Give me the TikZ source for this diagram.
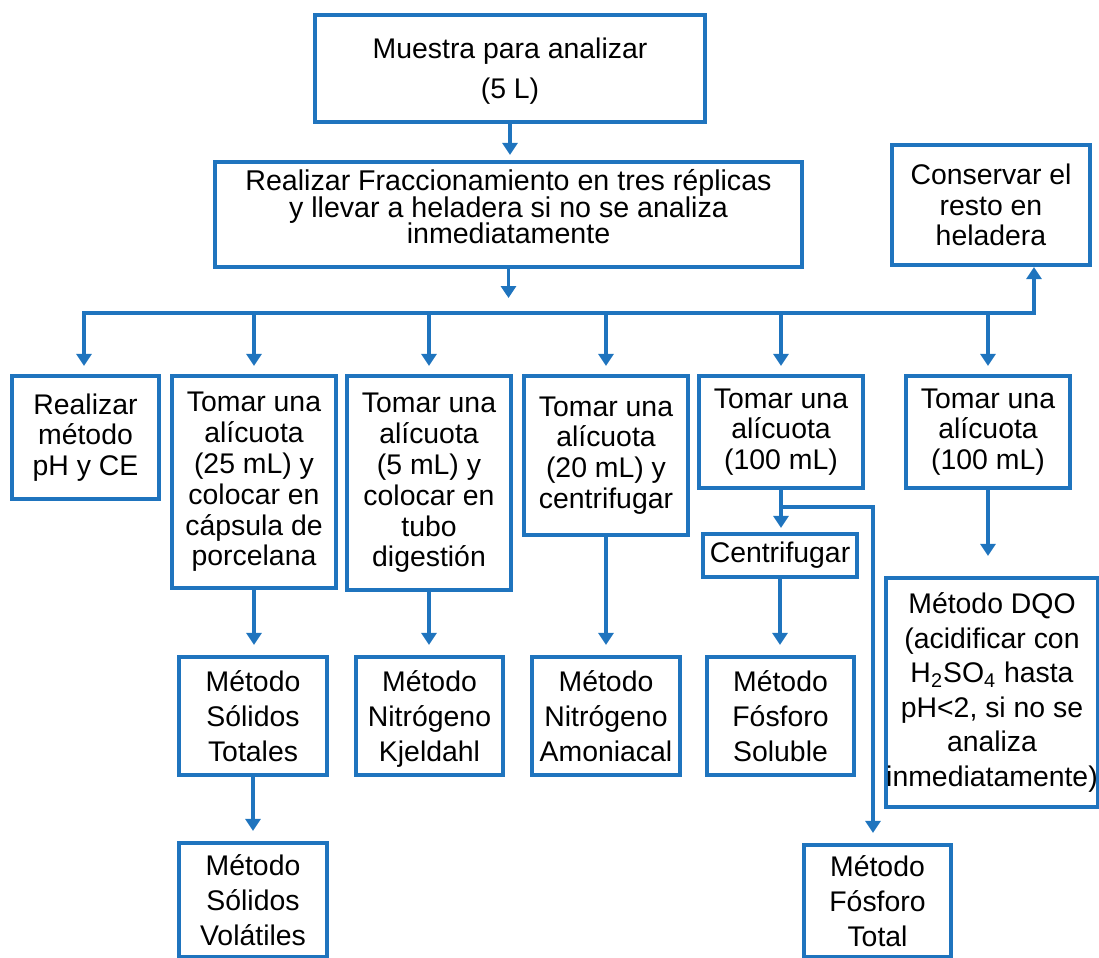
\documentclass[tikz,border=0pt]{standalone}
\usepackage{fontspec}
\setmainfont{Liberation Sans}
\usetikzlibrary{arrows.meta}
\definecolor{fblue}{HTML}{1F74BE}
\newcommand\mytightlines{\lineskiplimit=-10pt\relax\lineskip=0pt\relax}
\begin{document}
\begin{tikzpicture}[x=0.5pt,y=-0.5pt,
  box/.style={draw=fblue,line width=2.1pt,inner sep=0pt,align=center,font=\fontsize{14.2}{15.4}\selectfont},
  txt/.style={inner sep=0pt,align=center},
  ln/.style={draw=fblue,line width=1.65pt},
  arr/.style={ln,-{Triangle[length=6pt,width=7.5pt]}},
  biarr/.style={ln,{Triangle[length=6pt,width=7.5pt]}-{Triangle[length=6pt,width=7.5pt]}},
  metodo/.style={box,text depth=0pt,font=\fontsize{14.2}{17.5}\selectfont}]
\useasboundingbox (0,0) rectangle (1099,958);

% top
\node[box,minimum width=195pt,minimum height=53.5pt,text depth=0pt,font=\fontsize{14.2}{20}\selectfont] (top) at (510,68.5) {Muestra para analizar\\(5 L)};
\node[box,minimum width=293.5pt,minimum height=52.5pt] (frac) at (508.5,214.5) {};
\node[txt,font={\fontsize{14.3}{13.3}\selectfont\mytightlines}] (fractxt) at (508.5,207) {Realizar Fraccionamiento en tres réplicas\\y llevar a heladera si no se analiza\\inmediatamente};
\node[box,minimum width=99pt,minimum height=60pt] (cons) at (991,205) {Conservar el\\resto en\\heladera};

% second row
\node[box,minimum width=73.5pt,minimum height=61.5pt] (ph) at (85.5,437.5) {Realizar\\método\\pH y CE};
\node[box,minimum width=82pt,minimum height=106pt] (t25) at (254,482) {Tomar una\\alícuota\\(25 mL) y\\colocar en\\cápsula de\\porcelana};
\node[box,minimum width=82pt,minimum height=107pt] (t5) at (429,483) {Tomar una\\alícuota\\(5 mL) y\\colocar en\\tubo\\digestión};
\node[box,minimum width=82pt,minimum height=79.5pt] (t20) at (606,455.5) {Tomar una\\alícuota\\(20 mL) y\\centrifugar};
\node[box,minimum width=82pt,minimum height=56pt] (t100a) at (781,432) {Tomar una\\alícuota\\(100 mL)};
\node[box,minimum width=82pt,minimum height=56pt] (t100b) at (988,432) {Tomar una\\alícuota\\(100 mL)};
\node[box,minimum width=77pt,minimum height=21.5pt] (centri) at (780,555.5) {Centrifugar};

% third row
\node[metodo,minimum width=74pt,minimum height=59pt] (st) at (253,716) {Método\\Sólidos\\Totales};
\node[metodo,minimum width=73.5pt,minimum height=59pt] (nk) at (429.5,716) {Método\\Nitrógeno\\Kjeldahl};
\node[metodo,minimum width=74pt,minimum height=59pt] (na) at (606,716) {Método\\Nitrógeno\\Amoniacal};
\node[metodo,minimum width=73.5pt,minimum height=59pt] (fs) at (780.5,716) {Método\\Fósforo\\Soluble};
\node[box,minimum width=105pt,minimum height=114.5pt,font=\fontsize{14.2}{17.3}\selectfont] (dqo) at (992,692.5) {Método DQO\\(acidificar con\\H\textsubscript{2}SO\textsubscript{4} hasta\\pH<2, si no se\\analiza\\inmediatamente)};
\node[metodo,minimum width=74pt,minimum height=57pt] (sv) at (253,900) {Método\\Sólidos\\Volátiles};
\node[metodo,minimum width=73.5pt,minimum height=56pt] (ft) at (877.5,901) {Método\\Fósforo\\Total};

% connectors
\coordinate (busL) at (84,313);
\coordinate (busR) at (1034,313);
\coordinate (j) at (781,507);
\coordinate (jr) at (873,507);

\draw[arr,shorten >=2.5pt] (top.south) -- (top.south |- frac.north);
\draw[arr,shorten >=7.5pt] (frac.south) -- (frac.south |- busL);
\draw[biarr,shorten <=4pt] (busL |- ph.north) -- (busL) -- (busR) -- (busR |- cons.south);
\foreach \n in {t25,t5,t20,t100a,t100b}
  \draw[arr,shorten >=4pt] (\n.north |- busL) -- (\n.north);

\draw[arr,shorten >=5pt] (t25.south) -- (t25.south |- st.north);
\draw[arr,shorten >=5pt] (t5.south) -- (t5.south |- nk.north);
\draw[arr,shorten >=5pt] (t20.south) -- (t20.south |- na.north);
\draw[arr,shorten >=5pt] (st.south) -- (st.south |- sv.north);
\draw[arr,shorten >=10pt] (t100b.south) -- (t100b.south |- dqo.north);

\draw[ln] (t100a.south) -- (j);
\draw[biarr,shorten <=2pt,shorten >=5pt] (j |- centri.north) -- (j) -- (jr) -- (jr |- ft.north);
\draw[arr,shorten >=5pt] (centri.south) -- (centri.south |- fs.north);
\end{tikzpicture}
\end{document}
